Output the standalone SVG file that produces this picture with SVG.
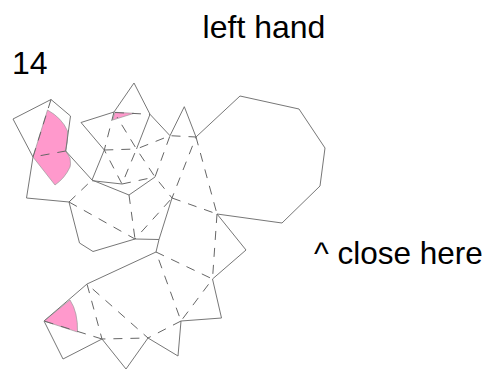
<svg xmlns="http://www.w3.org/2000/svg" width="499" height="374" viewBox="0 0 499 374">
<style>
text{font-family:"Liberation Sans",Arial,sans-serif;font-size:32px;fill:#000}
.s{fill:none;stroke:#777;stroke-width:1}
.d{fill:none;stroke:#666;stroke-width:1;stroke-dasharray:9 8}
.p{fill:#ff99cc;stroke:#999;stroke-width:.7}
</style>
<rect width="499" height="374" fill="#fff"/>
<g id="fills">
<path class="p" d="M47.500 110Q62 118 67.500 131Q68 142 65.700 151L70 158Q71 165 70 167Q65 178 55 185L33 157Z"/>
<path class="p" d="M115 112.300L134 113.300L112.700 120Z"/>
<path class="p" d="M44 321L70 300Q78 312 77.500 332Z"/>
</g>
<g id="connectors">
<path class="s" d="M33 157L13 119L51 99.500L70.500 116L65.700 151L92 180M33 157L26.500 198L69 202L79.500 243L93 251.500L135 239L159 239.500L172 198M81 122.500L114 112L134 83L150 114.300L170 135.700L184.300 106.700L196 137L240 96L299 109L325 148L320 186L282 223L217 214L246 250L212.500 279L221.500 318L181 321L178 356L148 338L126 369L102 339L63 359L44 321L87 284L156 252L159 239.500M81 122.500L104.300 150L92 180L129 195L155 177M92 180.700L122 184M150 114.300L136.500 149"/>
<path class="d" d="M51 99.500L33 157L65.700 151M69 202L92 180M69 202L135 239L172 198M129 195L135 239M115 112.500L150 114.300M114 112L104.300 150L122 184L136.500 149L170 135.700L196 137L172 198L155 177L136.500 149L117 117M104.300 150L136.500 149M122 184L155 177L170 135.700M172 198L217 214L196 137M217 214L212.500 279L156 252L181 321L212.500 279M181 321L148 338L87 284L102 339L148 338M102 339L44 321"/>
</g>
<g id="labels">
<text x="264" y="38" text-anchor="middle">left hand</text>
<text x="12" y="73.500">14</text>
<text x="314" y="263.500" style="font-size:31.500px">^ close here</text>
</g>
</svg>
